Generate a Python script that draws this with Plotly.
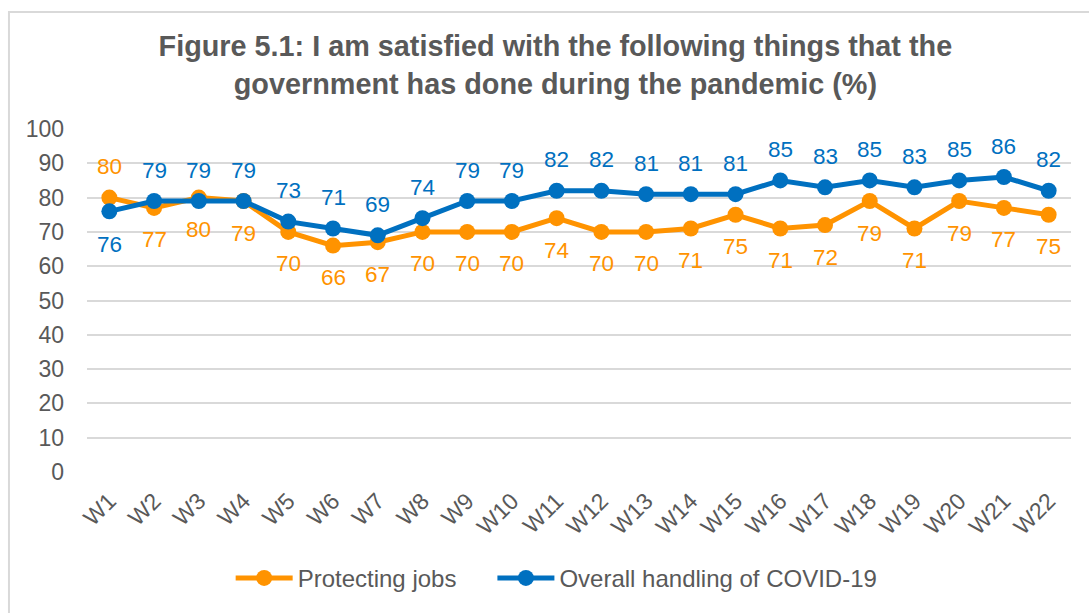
import plotly.graph_objects as go

waves = [f"W{i}" for i in range(1, 23)]
protecting_jobs = [80, 77, 80, 79, 70, 66, 67, 70, 70, 70, 74, 70, 70, 71, 75, 71, 72, 79, 71, 79, 77, 75]
overall_handling = [76, 79, 79, 79, 73, 71, 69, 74, 79, 79, 82, 82, 81, 81, 81, 85, 83, 85, 83, 85, 86, 82]
y_ticks = list(range(0, 101, 10))

ORANGE = "#FF9300"
BLUE = "#0070C0"
GREY = "#595959"
FONT = "Liberation Sans, Arial, sans-serif"

fig = go.Figure()
fig.add_trace(go.Scatter(
    x=waves, y=protecting_jobs, name="Protecting jobs", mode="lines+markers",
    line=dict(color=ORANGE, width=5), marker=dict(color=ORANGE, size=16), legend="legend",
))
fig.add_trace(go.Scatter(
    x=waves, y=overall_handling, name="Overall handling of COVID-19", mode="lines+markers",
    line=dict(color=BLUE, width=5), marker=dict(color=BLUE, size=16), legend="legend2",
))

# value labels: orange mostly below, blue mostly above
for i, w in enumerate(waves):
    pj_above = i == 0
    fig.add_annotation(x=w, y=protecting_jobs[i], text=str(protecting_jobs[i]), showarrow=False,
                       yshift=31 if pj_above else -32, font=dict(color=ORANGE, size=22.5, family=FONT))
    oh_above = i != 0
    fig.add_annotation(x=w, y=overall_handling[i], text=str(overall_handling[i]), showarrow=False,
                       yshift=31 if oh_above else -33, font=dict(color=BLUE, size=22.5, family=FONT))

# outer chart frame
fig.add_shape(type="rect", xref="paper", yref="paper", x0=-0.0793, x1=1.05, y0=-0.45, y1=1.341,
              line=dict(color="#D9D9D9", width=2), fillcolor="rgba(0,0,0,0)", layer="below")

legend_style = dict(orientation="h", yanchor="middle", y=-0.31, xanchor="left",
                    font=dict(size=24, color=GREY), itemwidth=57, bgcolor="rgba(0,0,0,0)")

fig.update_layout(
    width=1089, height=613,
    margin=dict(l=87, r=18, t=129, b=135),
    paper_bgcolor="white", plot_bgcolor="white",
    font=dict(family=FONT, color=GREY, size=23),
    title=dict(
        text="<b>Figure 5.1: I am satisfied with the following things that the<br>government has done during the pandemic (%)</b>",
        x=0.51, xanchor="center", y=0.908, yanchor="middle",
        font=dict(size=28.8, color=GREY, family=FONT),
    ),
    xaxis=dict(
        type="category", tickangle=-45, showgrid=False, showline=False, ticks="",
        tickfont=dict(size=23, color=GREY), range=[-0.5, 21.5], ticklabelstandoff=10,
    ),
    yaxis=dict(
        range=[0, 100], tickvals=y_ticks, showgrid=True, gridcolor="#D9D9D9", gridwidth=1.5,
        zeroline=False, showline=False, ticks="", tickfont=dict(size=23, color=GREY),
        ticklabelstandoff=22,
    ),
    legend=dict(x=0.146, **legend_style),
    legend2=dict(x=0.412, **legend_style),
    showlegend=True,
)

fig.write_html("out.html")
